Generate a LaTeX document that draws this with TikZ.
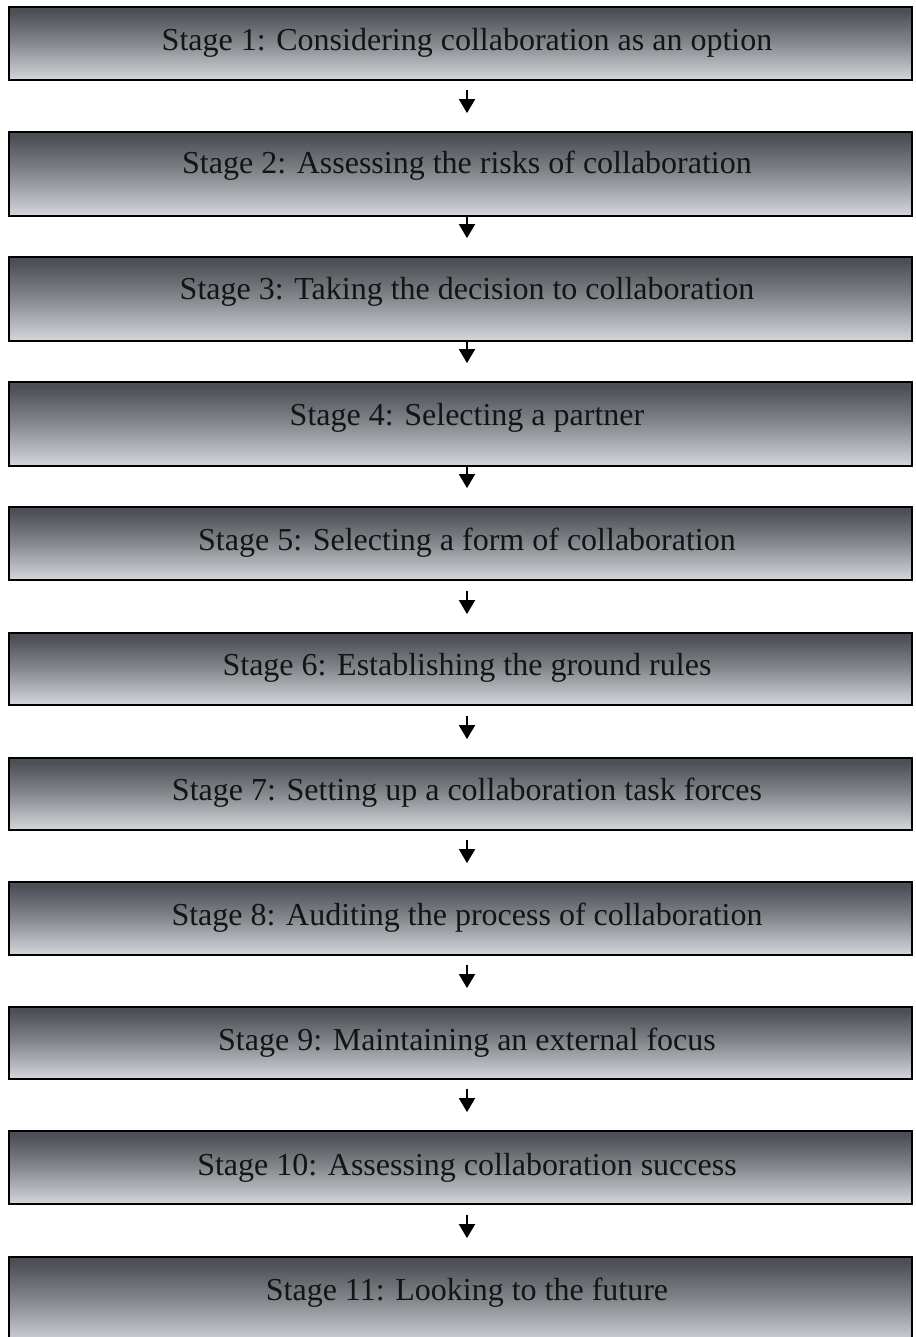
\documentclass[tikz,border=0pt]{standalone}
\usepackage{fontspec}
\setmainfont{Liberation Serif}
\usetikzlibrary{arrows.meta}

% grey bar fill: dark along the top edge, pale along the bottom
\definecolor{barTop}{RGB}{76,79,85}
\definecolor{barMid}{RGB}{128,131,136}
\definecolor{barLow}{RGB}{196,199,203}
\definecolor{barEdge}{RGB}{214,216,219}
\pgfdeclareverticalshading{stagefill}{100bp}{%
  color(0bp)=(barEdge); color(25bp)=(barEdge); color(30bp)=(barLow);
  color(52bp)=(barMid); color(72bp)=(barTop); color(75bp)=(barTop);
  color(100bp)=(barTop)}

\tikzset{
  stagebox/.style={draw=black, line width=1.8pt, shade, shading=stagefill,
    inner sep=0pt, minimum width=903pt},
  stagetext/.style={anchor=base, inner sep=0pt, text=black!92,
    font=\fontsize{32pt}{38pt}\selectfont},
  flow/.style={line width=1.9pt, -{Triangle[width=16pt,length=14pt]},
    shorten >=18pt}
}

\begin{document}
\begin{tikzpicture}[x=1pt,y=-1pt]
\useasboundingbox (0,0) rectangle (915,1337);
\clip (0,0) rectangle (915,1337);

% bars
\node[stagebox, minimum height=73pt] (s1)  at (460.5,43.5)  {};
\node[stagebox, minimum height=84pt] (s2)  at (460.5,174)   {};
\node[stagebox, minimum height=84pt] (s3)  at (460.5,299)   {};
\node[stagebox, minimum height=84pt] (s4)  at (460.5,424)   {};
\node[stagebox, minimum height=73pt] (s5)  at (460.5,543.5) {};
\node[stagebox, minimum height=72pt] (s6)  at (460.5,669)   {};
\node[stagebox, minimum height=72pt] (s7)  at (460.5,794)   {};
\node[stagebox, minimum height=73pt] (s8)  at (460.5,918.5) {};
\node[stagebox, minimum height=72pt] (s9)  at (460.5,1043)  {};
\node[stagebox, minimum height=73pt] (s10) at (460.5,1167.5){};
\node[stagebox, minimum height=88pt] (s11) at (460.5,1301)  {};

% labels
\node[stagetext] (t1)  at (467,51)   {Stage 1: Considering collaboration as an option};
\node[stagetext] (t2)  at (467,174)  {Stage 2: Assessing the risks of collaboration};
\node[stagetext] (t3)  at (467,300)  {Stage 3: Taking the decision to collaboration};
\node[stagetext] (t4)  at (467,425)  {Stage 4: Selecting a partner};
\node[stagetext] (t5)  at (467,550)  {Stage 5: Selecting a form of collaboration};
\node[stagetext] (t6)  at (467,675)  {Stage 6: Establishing the ground rules};
\node[stagetext] (t7)  at (467,800)  {Stage 7: Setting up a collaboration task forces};
\node[stagetext] (t8)  at (467,925)  {Stage 8: Auditing the process of collaboration};
\node[stagetext] (t9)  at (467,1050) {Stage 9: Maintaining an external focus};
\node[stagetext] (t10) at (467,1175) {Stage 10: Assessing collaboration success};
\node[stagetext] (t11) at (467,1300) {Stage 11: Looking to the future};

% connectors
\draw[flow, shorten <=9pt]  (s1.south -| t1)  -- (s2.north -| t1);
\draw[flow]                 (s2.south -| t2)  -- (s3.north -| t2);
\draw[flow]                 (s3.south -| t3)  -- (s4.north -| t3);
\draw[flow]                 (s4.south -| t4)  -- (s5.north -| t4);
\draw[flow, shorten <=10pt] (s5.south -| t5)  -- (s6.north -| t5);
\draw[flow, shorten <=10pt] (s6.south -| t6)  -- (s7.north -| t6);
\draw[flow, shorten <=9pt]  (s7.south -| t7)  -- (s8.north -| t7);
\draw[flow, shorten <=9pt]  (s8.south -| t8)  -- (s9.north -| t8);
\draw[flow, shorten <=9pt]  (s9.south -| t9)  -- (s10.north -| t9);
\draw[flow, shorten <=10pt] (s10.south -| t10) -- (s11.north -| t10);
\end{tikzpicture}
\end{document}
